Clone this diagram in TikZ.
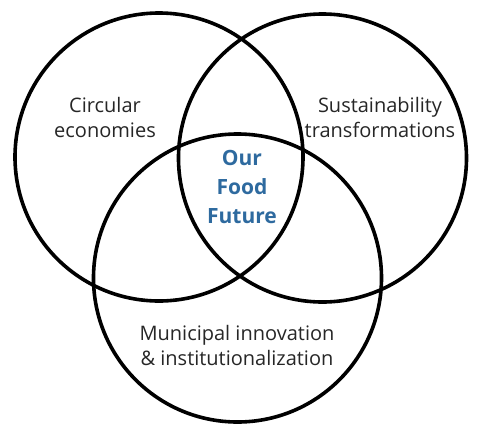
\documentclass[tikz,border=0pt]{standalone}
\usepackage{fontspec}
\setmainfont{Open Sans}
\definecolor{ourblue}{HTML}{2E6A9F}
\begin{document}
\begin{tikzpicture}[x=1pt,y=-1pt,
  ring/.style={draw=black,line width=3.6pt,circle,minimum size=288pt,inner sep=0pt},
  lbl/.style={align=center,font=\fontsize{20}{25}\selectfont,text=black!85},
  core/.style={align=center,font=\fontsize{21}{29}\selectfont\bfseries,text=ourblue}]
\useasboundingbox (0,0) rectangle (482,440);
\node[ring] (cl) at (159,157) {};
\node[ring] (cr) at (322.5,158) {};
\node[ring] (cb) at (237.5,278) {};
\node[lbl] (tl) at (105,117) {Circular\\economies};
\node[lbl] (tr) at (380,117) {Sustainability\\transformations};
\node[lbl] (tb) at (237,345) {Municipal innovation\\\& institutionalization};
\node[core] (tc) at (242,187) {Our\\Food\\Future};
\end{tikzpicture}
\end{document}
